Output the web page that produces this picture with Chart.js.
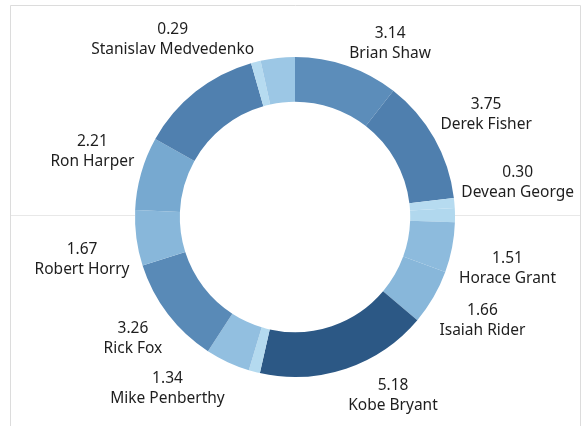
<!DOCTYPE html>
<html>
<head>
<meta charset="utf-8">
<script src="https://cdn.jsdelivr.net/npm/chart.js@4.4.1/dist/chart.umd.min.js"></script>
<style>
  html, body { margin: 0; padding: 0; background: #fff; }
  #wrap { width: 582px; height: 426px; position: relative; }
</style>
</head>
<body>
<div id="wrap"><canvas id="chart" width="582" height="426"></canvas></div>
<script>
// Players, clockwise from 12 o'clock
const players = [
    "Brian Shaw", "Derek Fisher", "Devean George", "Greg Foster", "Horace Grant",
    "Isaiah Rider", "Kobe Bryant", "Mark Madsen", "Mike Penberthy", "Rick Fox",
    "Robert Horry", "Ron Harper", "Shaquille O'Neal", "Stanislav Medvedenko", "Tyronn Lue"
];
const values = [3.14, 3.75, 0.30, 0.42, 1.51, 1.66, 5.18, 0.34, 1.34, 3.26, 1.67, 2.21, 3.72, 0.29, 1.03];

// labels that the original dropped because they overlap
const hiddenLabels = ["Greg Foster", "Mark Madsen", "Shaquille O'Neal", "Tyronn Lue"];

// sequential blue ramp, light -> dark
const rampStops = ["#b6dbf0", "#94c1e1", "#76a8cf", "#5a8bb8", "#4675a6", "#2c5885"];

function hexToRgb(h) {
    return [parseInt(h.slice(1, 3), 16), parseInt(h.slice(3, 5), 16), parseInt(h.slice(5, 7), 16)];
}

function rampColor(v) {
    const min = Math.min(...values), max = Math.max(...values);
    const t = (v - min) / (max - min);
    const pos = t * (rampStops.length - 1);
    const i = Math.min(Math.floor(pos), rampStops.length - 2);
    const f = pos - i;
    const a = hexToRgb(rampStops[i]), b = hexToRgb(rampStops[i + 1]);
    const c = a.map((x, k) => Math.round(x + (b[k] - x) * f));
    return `rgb(${c[0]},${c[1]},${c[2]})`;
}

// frame + faint divider line behind the ring
const framePlugin = {
    id: "frame",
    beforeDraw(chart) {
        const ctx = chart.ctx;
        const arc = chart.getDatasetMeta(0).data[0];
        ctx.save();
        ctx.fillStyle = "#fff";
        ctx.fillRect(0, 0, chart.width, chart.height);
        ctx.strokeStyle = "#e8e8e8";
        ctx.lineWidth = 1;
        if (arc) {
            const p = arc.getProps(["x", "y", "outerRadius"], true);
            ctx.beginPath();
            ctx.moveTo(10, 215.5);
            ctx.lineTo(p.x - p.outerRadius, 215.5);
            ctx.moveTo(p.x + p.outerRadius, 215.5);
            ctx.lineTo(580, 215.5);
            ctx.stroke();
        }
        ctx.strokeStyle = "#dcdcdc";
        ctx.beginPath();
        ctx.moveTo(10.5, chart.height);
        ctx.lineTo(10.5, 5.5);
        ctx.lineTo(580.5, 5.5);
        ctx.lineTo(580.5, chart.height);
        ctx.stroke();
        ctx.restore();
    }
};

// two-line labels (value over name) placed at the outer corner of each slice
const labelPlugin = {
    id: "sliceLabels",
    afterDatasetsDraw(chart) {
        const ctx = chart.ctx;
        const meta = chart.getDatasetMeta(0);
        const lineH = 20;
        ctx.save();
        ctx.font = "15.5px 'Noto Sans'";
        ctx.fillStyle = "#1e1e1e";
        ctx.textAlign = "center";
        ctx.textBaseline = "middle";
        meta.data.forEach((el, i) => {
            const name = players[i];
            if (hiddenLabels.includes(name)) return;
            const p = el.getProps(["x", "y", "startAngle", "endAngle", "outerRadius"], true);
            const mid = (p.startAngle + p.endAngle) / 2;
            const ax = p.x + Math.cos(mid) * (p.outerRadius + 7);
            const ay = p.y + Math.sin(mid) * (p.outerRadius + 7);
            const valText = values[i].toFixed(2);
            const w = Math.max(ctx.measureText(valText).width, ctx.measureText(name).width);
            const left = Math.cos(mid) >= 0 ? ax : ax - w;
            let top;
            if (Math.sin(mid) < 0) {
                // labels near the top sit a little lower
                top = ay - 2 * lineH + Math.max(0, 10 * (Math.abs(Math.sin(mid)) - 0.5));
            } else {
                top = ay;
            }
            const cx = left + w / 2;
            ctx.fillText(valText, cx, top + lineH / 2);
            ctx.fillText(name, cx, top + lineH * 1.5);
        });
        ctx.restore();
    }
};

new Chart(document.getElementById("chart"), {
    type: "doughnut",
    data: {
        labels: players,
        datasets: [{
            data: values,
            backgroundColor: values.map(rampColor),
            borderWidth: 0
        }]
    },
    options: {
        responsive: false,
        animation: false,
        cutout: "72%",
        layout: { padding: { left: 135, right: 127, top: 57, bottom: 49 } },
        plugins: {
            legend: { display: false },
            tooltip: { enabled: false }
        }
    },
    plugins: [framePlugin, labelPlugin]
});
</script>
</body>
</html>
